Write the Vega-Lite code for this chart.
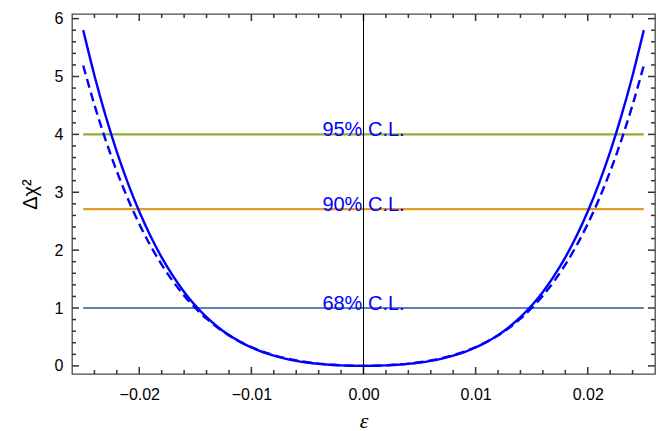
{
  "$schema": "https://vega.github.io/schema/vega-lite/v6.json",
  "width": 583,
  "height": 360,
  "autosize": {"type": "none"},
  "padding": {"left": 72, "top": 14, "right": 10, "bottom": 57},
  "background": "white",
  "config": {
    "view": {"stroke": "#4a4a4a", "strokeWidth": 1.3},
    "font": "Liberation Sans"
  },
  "datasets": {
    "curves": [
      {"e": -0.025, "s": 5.8010, "d": 5.1902},
      {"e": -0.024, "s": 5.0182, "d": 4.5110},
      {"e": -0.023, "s": 4.3199, "d": 3.9027},
      {"e": -0.022, "s": 3.6993, "d": 3.3606},
      {"e": -0.021, "s": 3.1503, "d": 2.8792},
      {"e": -0.020, "s": 2.6668, "d": 2.4532},
      {"e": -0.019, "s": 2.2432, "d": 2.0782},
      {"e": -0.018, "s": 1.8740, "d": 1.7495},
      {"e": -0.017, "s": 1.5540, "d": 1.4629},
      {"e": -0.016, "s": 1.2784, "d": 1.2143},
      {"e": -0.015, "s": 1.0426, "d": 1.0000},
      {"e": -0.014, "s": 0.8421, "d": 0.8162},
      {"e": -0.013, "s": 0.6731, "d": 0.6598},
      {"e": -0.012, "s": 0.5317, "d": 0.5274},
      {"e": -0.011, "s": 0.4144, "d": 0.4163},
      {"e": -0.010, "s": 0.3181, "d": 0.3238},
      {"e": -0.009, "s": 0.2398, "d": 0.2474},
      {"e": -0.008, "s": 0.1768, "d": 0.1850},
      {"e": -0.007, "s": 0.1268, "d": 0.1346},
      {"e": -0.006, "s": 0.0877, "d": 0.0943},
      {"e": -0.005, "s": 0.0577, "d": 0.0629},
      {"e": -0.004, "s": 0.0353, "d": 0.0388},
      {"e": -0.003, "s": 0.0191, "d": 0.0212},
      {"e": -0.002, "s": 0.0083, "d": 0.0092},
      {"e": -0.001, "s": 0.0020, "d": 0.0023},
      {"e": 0.000, "s": 0.0000, "d": 0.0000},
      {"e": 0.001, "s": 0.0020, "d": 0.0023},
      {"e": 0.002, "s": 0.0083, "d": 0.0092},
      {"e": 0.003, "s": 0.0191, "d": 0.0212},
      {"e": 0.004, "s": 0.0353, "d": 0.0388},
      {"e": 0.005, "s": 0.0577, "d": 0.0629},
      {"e": 0.006, "s": 0.0877, "d": 0.0943},
      {"e": 0.007, "s": 0.1268, "d": 0.1346},
      {"e": 0.008, "s": 0.1768, "d": 0.1850},
      {"e": 0.009, "s": 0.2398, "d": 0.2474},
      {"e": 0.010, "s": 0.3181, "d": 0.3238},
      {"e": 0.011, "s": 0.4144, "d": 0.4163},
      {"e": 0.012, "s": 0.5317, "d": 0.5274},
      {"e": 0.013, "s": 0.6731, "d": 0.6598},
      {"e": 0.014, "s": 0.8421, "d": 0.8162},
      {"e": 0.015, "s": 1.0426, "d": 1.0000},
      {"e": 0.016, "s": 1.2784, "d": 1.2143},
      {"e": 0.017, "s": 1.5540, "d": 1.4629},
      {"e": 0.018, "s": 1.8740, "d": 1.7495},
      {"e": 0.019, "s": 2.2432, "d": 2.0782},
      {"e": 0.020, "s": 2.6668, "d": 2.4532},
      {"e": 0.021, "s": 3.1503, "d": 2.8792},
      {"e": 0.022, "s": 3.6993, "d": 3.3606},
      {"e": 0.023, "s": 4.3199, "d": 3.9027},
      {"e": 0.024, "s": 5.0182, "d": 4.5110},
      {"e": 0.025, "s": 5.8010, "d": 5.1902}
    ],
    "levels": [
      {"label": "68% C.L.", "y": 1.0, "x1": -0.025, "x2": 0.025, "c": "#5e81b5"},
      {"label": "90% C.L.", "y": 2.71, "x1": -0.025, "x2": 0.025, "c": "#e19c24"},
      {"label": "95% C.L.", "y": 4.0, "x1": -0.025, "x2": 0.025, "c": "#8fb032"}
    ],
    "xmajor": [{"v": -0.02}, {"v": -0.01}, {"v": 0}, {"v": 0.01}, {"v": 0.02}],
    "xminor": [{"v": -0.024}, {"v": -0.022}, {"v": -0.018}, {"v": -0.016}, {"v": -0.014}, {"v": -0.012}, {"v": -0.008}, {"v": -0.006}, {"v": -0.004}, {"v": -0.002}, {"v": 0.002}, {"v": 0.004}, {"v": 0.006}, {"v": 0.008}, {"v": 0.012}, {"v": 0.014}, {"v": 0.016}, {"v": 0.018}, {"v": 0.022}, {"v": 0.024}],
    "ymajor": [{"v": 0}, {"v": 1}, {"v": 2}, {"v": 3}, {"v": 4}, {"v": 5}, {"v": 6}],
    "yminor": [{"v": 0.2}, {"v": 0.4}, {"v": 0.6}, {"v": 0.8}, {"v": 1.2}, {"v": 1.4}, {"v": 1.6}, {"v": 1.8}, {"v": 2.2}, {"v": 2.4}, {"v": 2.6}, {"v": 2.8}, {"v": 3.2}, {"v": 3.4}, {"v": 3.6}, {"v": 3.8}, {"v": 4.2}, {"v": 4.4}, {"v": 4.6}, {"v": 4.8}, {"v": 5.2}, {"v": 5.4}, {"v": 5.6}, {"v": 5.8}]
  },
  "layer": [
    {
      "data": {"name": "levels"},
      "mark": {"type": "rule", "strokeWidth": 2.2},
      "encoding": {
        "x": {
          "field": "x1", "type": "quantitative",
          "scale": {"domain": [-0.026, 0.026], "nice": false, "zero": false},
          "axis": {
            "orient": "bottom",
            "values": [-0.02, -0.01, 0, 0.01, 0.02],
            "format": ".2f",
            "domain": false,
            "grid": false,
            "ticks": false,
            "labelFontSize": 16,
            "labelColor": "black",
            "labelPadding": 12,
            "labelFlush": false,
            "labelOverlap": false,
            "title": "ε",
            "titleFont": "Liberation Serif",
            "titleFontStyle": "italic",
            "titleFontWeight": "normal",
            "titleFontSize": 22,
            "titleColor": "black",
            "titlePadding": 8
          }
        },
        "x2": {"field": "x2"},
        "y": {
          "field": "y", "type": "quantitative",
          "scale": {"domain": [-0.14, 6.08], "nice": false, "zero": false},
          "axis": {
            "orient": "left",
            "values": [0, 1, 2, 3, 4, 5, 6],
            "format": "d",
            "domain": false,
            "grid": false,
            "ticks": false,
            "labelFontSize": 16,
            "labelColor": "black",
            "labelPadding": 9,
            "labelFlush": false,
            "labelOverlap": false,
            "title": "Δχ²",
            "titleFont": "Liberation Sans",
            "titleFontWeight": "normal",
            "titleFontSize": 20,
            "titleColor": "black",
            "titlePadding": 14
          }
        },
        "color": {"field": "c", "type": "nominal", "scale": null, "legend": null}
      }
    },
    {
      "data": {"name": "xmajor"},
      "mark": {"type": "rule", "color": "#333333", "strokeWidth": 1.5},
      "encoding": {
        "x": {"field": "v", "type": "quantitative", "scale": {"domain": [-0.026, 0.026], "nice": false, "zero": false}, "axis": null},
        "y": {"datum": -0.14, "type": "quantitative", "scale": {"domain": [-0.14, 6.08], "nice": false, "zero": false}, "axis": null},
        "y2": {"datum": -0.019}
      }
    },
    {
      "data": {"name": "xmajor"},
      "mark": {"type": "rule", "color": "#333333", "strokeWidth": 1.5},
      "encoding": {
        "x": {"field": "v", "type": "quantitative", "scale": {"domain": [-0.026, 0.026], "nice": false, "zero": false}, "axis": null},
        "y": {"datum": 6.08, "type": "quantitative", "scale": {"domain": [-0.14, 6.08], "nice": false, "zero": false}, "axis": null},
        "y2": {"datum": 5.959}
      }
    },
    {
      "data": {"name": "xminor"},
      "mark": {"type": "rule", "color": "#333333", "strokeWidth": 1.5},
      "encoding": {
        "x": {"field": "v", "type": "quantitative", "scale": {"domain": [-0.026, 0.026], "nice": false, "zero": false}, "axis": null},
        "y": {"datum": -0.14, "type": "quantitative", "scale": {"domain": [-0.14, 6.08], "nice": false, "zero": false}, "axis": null},
        "y2": {"datum": -0.071}
      }
    },
    {
      "data": {"name": "xminor"},
      "mark": {"type": "rule", "color": "#333333", "strokeWidth": 1.5},
      "encoding": {
        "x": {"field": "v", "type": "quantitative", "scale": {"domain": [-0.026, 0.026], "nice": false, "zero": false}, "axis": null},
        "y": {"datum": 6.08, "type": "quantitative", "scale": {"domain": [-0.14, 6.08], "nice": false, "zero": false}, "axis": null},
        "y2": {"datum": 6.011}
      }
    },
    {
      "data": {"name": "ymajor"},
      "mark": {"type": "rule", "color": "#333333", "strokeWidth": 1.5},
      "encoding": {
        "y": {"field": "v", "type": "quantitative", "scale": {"domain": [-0.14, 6.08], "nice": false, "zero": false}, "axis": null},
        "x": {"datum": -0.026, "type": "quantitative", "scale": {"domain": [-0.026, 0.026], "nice": false, "zero": false}, "axis": null},
        "x2": {"datum": -0.025376}
      }
    },
    {
      "data": {"name": "ymajor"},
      "mark": {"type": "rule", "color": "#333333", "strokeWidth": 1.5},
      "encoding": {
        "y": {"field": "v", "type": "quantitative", "scale": {"domain": [-0.14, 6.08], "nice": false, "zero": false}, "axis": null},
        "x": {"datum": 0.026, "type": "quantitative", "scale": {"domain": [-0.026, 0.026], "nice": false, "zero": false}, "axis": null},
        "x2": {"datum": 0.025376}
      }
    },
    {
      "data": {"name": "yminor"},
      "mark": {"type": "rule", "color": "#333333", "strokeWidth": 1.5},
      "encoding": {
        "y": {"field": "v", "type": "quantitative", "scale": {"domain": [-0.14, 6.08], "nice": false, "zero": false}, "axis": null},
        "x": {"datum": -0.026, "type": "quantitative", "scale": {"domain": [-0.026, 0.026], "nice": false, "zero": false}, "axis": null},
        "x2": {"datum": -0.025644}
      }
    },
    {
      "data": {"name": "yminor"},
      "mark": {"type": "rule", "color": "#333333", "strokeWidth": 1.5},
      "encoding": {
        "y": {"field": "v", "type": "quantitative", "scale": {"domain": [-0.14, 6.08], "nice": false, "zero": false}, "axis": null},
        "x": {"datum": 0.026, "type": "quantitative", "scale": {"domain": [-0.026, 0.026], "nice": false, "zero": false}, "axis": null},
        "x2": {"datum": 0.025644}
      }
    },
    {
      "data": {"name": "curves"},
      "mark": {"type": "line", "color": "#0000ff", "strokeWidth": 2.4, "interpolate": "monotone"},
      "encoding": {
        "x": {"field": "e", "type": "quantitative", "scale": {"domain": [-0.026, 0.026], "nice": false, "zero": false}, "axis": null},
        "y": {"field": "s", "type": "quantitative", "scale": {"domain": [-0.14, 6.08], "nice": false, "zero": false}, "axis": null}
      }
    },
    {
      "data": {"name": "curves"},
      "mark": {"type": "line", "color": "#0000ff", "strokeWidth": 2.4, "strokeDash": [9, 5], "interpolate": "monotone"},
      "encoding": {
        "x": {"field": "e", "type": "quantitative", "scale": {"domain": [-0.026, 0.026], "nice": false, "zero": false}, "axis": null},
        "y": {"field": "d", "type": "quantitative", "scale": {"domain": [-0.14, 6.08], "nice": false, "zero": false}, "axis": null}
      }
    },
    {
      "data": {"values": [{"v": 0}]},
      "mark": {"type": "rule", "color": "black", "strokeWidth": 1},
      "encoding": {
        "x": {"field": "v", "type": "quantitative", "scale": {"domain": [-0.026, 0.026], "nice": false, "zero": false}, "axis": null}
      }
    },
    {
      "data": {"name": "levels"},
      "mark": {"type": "text", "color": "#0000ff", "font": "Liberation Sans", "fontSize": 20, "align": "center", "baseline": "alphabetic", "dy": 2},
      "encoding": {
        "x": {"datum": 0, "type": "quantitative", "scale": {"domain": [-0.026, 0.026], "nice": false, "zero": false}, "axis": null},
        "y": {"field": "y", "type": "quantitative", "scale": {"domain": [-0.14, 6.08], "nice": false, "zero": false}, "axis": null},
        "text": {"field": "label"}
      }
    }
  ],
  "resolve": {"axis": {"x": "independent", "y": "independent"}}
}
